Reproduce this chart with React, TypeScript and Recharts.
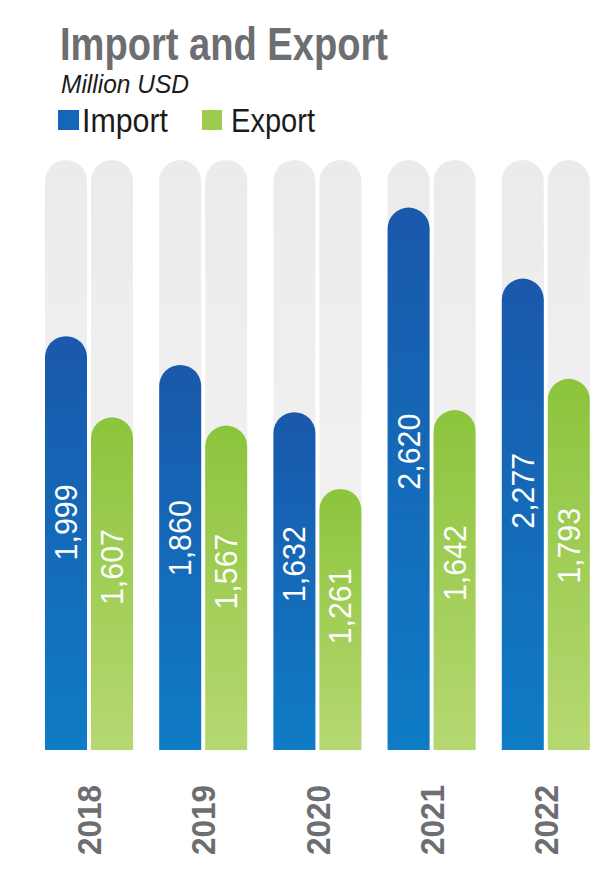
import React from "react";
import { BarChart, Bar, XAxis, YAxis, LabelList } from "recharts";

const years = ["2018", "2019", "2020", "2021", "2022"];
const importValues = [1999, 1860, 1632, 2620, 2277];
const exportValues = [1607, 1567, 1261, 1642, 1793];

const data = years.map((year, i) => ({
  year,
  import: importValues[i],
  export: exportValues[i],
}));

const GRAY = "#6d6e71";

// value written upright inside the bar, reading bottom to top
const ValueLabel = (props: any) => {
  const { x, y, width, height, value } = props;
  const cx = x + width / 2;
  const cy = y + height * 0.45;
  return (
    <text
      x={cx}
      y={cy}
      transform={`rotate(-90, ${cx}, ${cy})`}
      textAnchor="middle"
      dominantBaseline="central"
      fill="#ffffff"
      fontFamily="Liberation Sans, Arial, sans-serif"
      fontSize={32}
      textLength={76}
      lengthAdjust="spacingAndGlyphs"
    >
      {Number(value).toLocaleString("en-US")}
    </text>
  );
};

const YearTick = (props: any) => {
  const { x, y, payload } = props;
  const cy = y + 62;
  return (
    <text
      x={x}
      y={cy}
      transform={`rotate(-90, ${x}, ${cy})`}
      textAnchor="middle"
      dominantBaseline="central"
      fill={GRAY}
      fontFamily="Liberation Sans, Arial, sans-serif"
      fontWeight="bold"
      fontSize={34}
      textLength={70}
      lengthAdjust="spacingAndGlyphs"
    >
      {payload.value}
    </text>
  );
};

const Header = () => (
  <svg width={608} height={150} style={{ position: "absolute", left: 0, top: 0 }}>
    <text
      x={60}
      y={60}
      fill={GRAY}
      fontFamily="Liberation Sans, Arial, sans-serif"
      fontWeight="bold"
      fontSize={46}
      textLength={328}
      lengthAdjust="spacingAndGlyphs"
    >
      Import and Export
    </text>
    <text
      x={61}
      y={93}
      fill="#1b1b1b"
      fontFamily="Liberation Sans, Arial, sans-serif"
      fontStyle="italic"
      fontSize={25}
      textLength={128}
      lengthAdjust="spacingAndGlyphs"
    >
      Million USD
    </text>
    <rect x={58} y={110} width={21} height={20} fill="#1565b8" />
    <text
      x={82}
      y={132}
      fill="#1b1b1b"
      fontFamily="Liberation Sans, Arial, sans-serif"
      fontSize={34}
      textLength={86}
      lengthAdjust="spacingAndGlyphs"
    >
      Import
    </text>
    <rect x={202} y={110} width={20} height={20} fill="#9ccb4e" />
    <text
      x={231}
      y={132}
      fill="#1b1b1b"
      fontFamily="Liberation Sans, Arial, sans-serif"
      fontSize={34}
      textLength={84}
      lengthAdjust="spacingAndGlyphs"
    >
      Export
    </text>
  </svg>
);

export default function App() {
  return (
    <div
      style={{
        position: "absolute",
        left: 0,
        top: 0,
        width: 608,
        height: 893,
        background: "#ffffff",
        overflow: "hidden",
      }}
    >
      <BarChart
        width={608}
        height={893}
        data={data}
        margin={{ top: 160, right: 5, left: 32, bottom: 0 }}
        barSize={42}
        barGap={4}
      >
        <defs>
          <linearGradient id="gradImport" x1="0" y1="0" x2="0" y2="1">
            <stop offset="0%" stopColor="#1a58ab" />
            <stop offset="100%" stopColor="#0f7cc6" />
          </linearGradient>
          <linearGradient id="gradExport" x1="0" y1="0" x2="0" y2="1">
            <stop offset="0%" stopColor="#8cc43c" />
            <stop offset="100%" stopColor="#b6d872" />
          </linearGradient>
          <linearGradient id="gradTrack" x1="0" y1="0" x2="0" y2="1">
            <stop offset="0%" stopColor="#ebebeb" />
            <stop offset="100%" stopColor="#f5f5f5" />
          </linearGradient>
        </defs>
        <XAxis
          dataKey="year"
          axisLine={false}
          tickLine={false}
          height={143}
          interval={0}
          tick={<YearTick />}
        />
        <YAxis hide domain={[0, 2850]} />
        <Bar
          dataKey="import"
          fill="url(#gradImport)"
          radius={[21, 21, 0, 0]}
          background={{ fill: "url(#gradTrack)", radius: [21, 21, 0, 0] } as any}
          isAnimationActive={false}
        >
          <LabelList dataKey="import" content={<ValueLabel />} />
        </Bar>
        <Bar
          dataKey="export"
          fill="url(#gradExport)"
          radius={[21, 21, 0, 0]}
          background={{ fill: "url(#gradTrack)", radius: [21, 21, 0, 0] } as any}
          isAnimationActive={false}
        >
          <LabelList dataKey="export" content={<ValueLabel />} />
        </Bar>
      </BarChart>
      <Header />
    </div>
  );
}
